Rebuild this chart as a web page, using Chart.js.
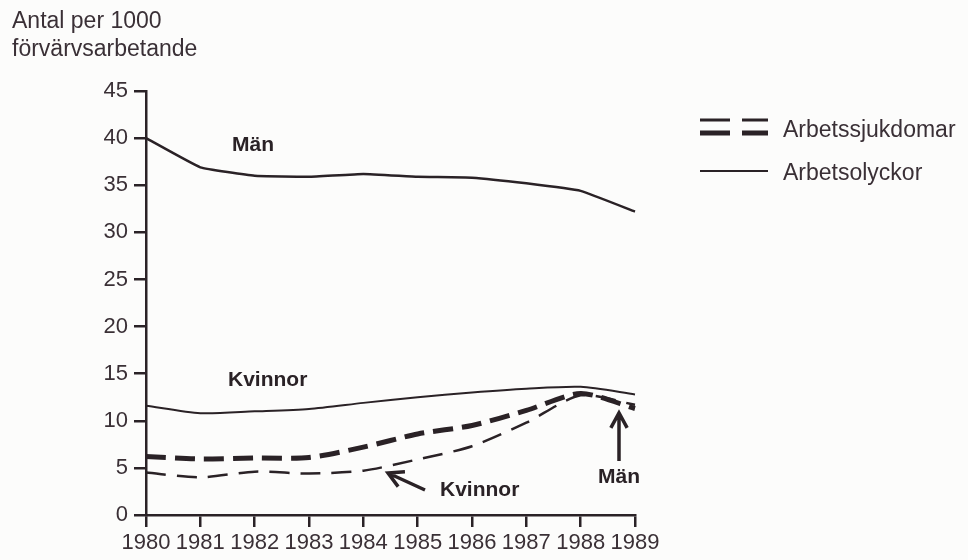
<!DOCTYPE html>
<html>
<head>
<meta charset="utf-8">
<script src="https://cdn.jsdelivr.net/npm/chart.js@4.4.1/dist/chart.umd.min.js"></script>
<style>
  html, body { margin: 0; padding: 0; background: #fcfcfb; }
  #wrap { width: 968px; height: 560px; position: relative; }
</style>
</head>
<body>
<div id="wrap"><canvas id="chart" width="968" height="560"></canvas></div>
<script>
/* ── Data ─────────────────────────────────────────────────────────── */
const years = ['1980','1981','1982','1983','1984','1985','1986','1987','1988','1989'];

// Arbetsolyckor (solid)
const olyckorMan     = [40.0, 36.9, 36.0, 35.9, 36.2, 35.9, 35.8, 35.2, 34.4, 32.2];
const olyckorKvinnor = [11.6, 10.8, 11.0, 11.25, 11.9, 12.5, 13.0, 13.4, 13.6, 12.8];

// Arbetssjukdomar (dashed)
const sjukdomMan     = [6.2, 5.95, 6.05, 6.1, 7.2, 8.6, 9.5, 11.1, 12.9, 11.3];
const sjukdomKvinnor = [4.5, 4.0, 4.6, 4.4, 4.7, 5.9, 7.3, 9.8, 12.7, 11.7];

const yTicks = [0, 5, 10, 15, 20, 25, 30, 35, 40, 45];

const INK  = '#2a2226';
const TEXT = '#3a3036';
const FONT = '"Liberation Sans", Arial, Helvetica, sans-serif';

// ── Overlay: axis title, legend, annotations ────────────────────────
function arrow(ctx, x1, y1, x2, y2) {
  // line from (x1,y1) to tip (x2,y2)
  var a = Math.atan2(y2 - y1, x2 - x1);
  var h = 17;
  ctx.beginPath();
  ctx.moveTo(x1, y1);
  ctx.lineTo(x2, y2);
  ctx.moveTo(x2 - h * Math.cos(a - 0.5), y2 - h * Math.sin(a - 0.5));
  ctx.lineTo(x2, y2);
  ctx.lineTo(x2 - h * Math.cos(a + 0.5), y2 - h * Math.sin(a + 0.5));
  ctx.stroke();
}

const overlay = {
  id: 'overlay',
  afterDraw: function(chart) {
    var ctx = chart.ctx;
    ctx.save();

    // y axis title
    ctx.fillStyle = TEXT;
    ctx.font = '23px ' + FONT;
    ctx.textAlign = 'left';
    ctx.textBaseline = 'middle';
    ctx.fillText('Antal per 1000', 12, 22);
    ctx.fillText('förvärvsarbetande', 12, 50);

    // legend
    ctx.strokeStyle = INK;
    ctx.lineCap = 'butt';
    ctx.lineWidth = 3;
    ctx.beginPath();
    ctx.moveTo(700, 120); ctx.lineTo(730, 120);
    ctx.moveTo(742, 120); ctx.lineTo(768, 120);
    ctx.stroke();
    ctx.lineWidth = 5;
    ctx.beginPath();
    ctx.moveTo(700, 133); ctx.lineTo(730, 133);
    ctx.moveTo(742, 133); ctx.lineTo(768, 133);
    ctx.stroke();
    ctx.lineWidth = 2;
    ctx.beginPath();
    ctx.moveTo(700, 171); ctx.lineTo(768, 171);
    ctx.stroke();
    ctx.fillText('Arbetssjukdomar', 783, 131);
    ctx.fillText('Arbetsolyckor', 783, 174);

    // annotations
    ctx.font = 'bold 21px ' + FONT;
    ctx.fillStyle = INK;
    ctx.fillText('Män', 232, 145);
    ctx.fillText('Kvinnor', 228, 380);
    ctx.fillText('Kvinnor', 440, 490);
    ctx.fillText('Män', 598, 477);

    ctx.lineWidth = 3.5;
    ctx.lineJoin = 'miter';
    arrow(ctx, 425, 490, 388, 473);
    arrow(ctx, 619, 461, 619, 413);

    ctx.restore();
  }
};

// ── Chart ───────────────────────────────────────────────────────────
const ctx = document.getElementById('chart').getContext('2d');
new Chart(ctx, {
  type: 'line',
  data: {
    labels: years,
    datasets: [
      { label: 'Arbetsolyckor Män', data: olyckorMan,
        borderColor: INK, borderWidth: 2.5, tension: 0.1 },
      { label: 'Arbetsolyckor Kvinnor', data: olyckorKvinnor,
        borderColor: INK, borderWidth: 2, tension: 0.25 },
      { label: 'Arbetssjukdomar Män', data: sjukdomMan,
        borderColor: INK, borderWidth: 5, borderDash: [20, 9], tension: 0.25 },
      { label: 'Arbetssjukdomar Kvinnor', data: sjukdomKvinnor,
        borderColor: INK, borderWidth: 2.5, borderDash: [20, 11], tension: 0.25 }
    ]
  },
  options: {
    responsive: false,
    animation: false,
    devicePixelRatio: 1,
    layout: { padding: { left: 0, top: 91, right: 333, bottom: 0 } },
    elements: { point: { radius: 0 }, line: { fill: false, borderCapStyle: 'butt' } },
    plugins: {
      legend: { display: false },
      tooltip: { enabled: false },
      title: { display: false }
    },
    scales: {
      x: {
        type: 'category',
        offset: false,
        afterFit: function(s) { s.height = 45; },
        grid: { display: true, drawOnChartArea: false, drawTicks: true,
                tickLength: 12, color: INK, lineWidth: 2.5 },
        border: { display: true, color: INK, width: 2.5 },
        ticks: { color: TEXT, font: { size: 22, family: FONT },
                 padding: 3, maxRotation: 0, autoSkip: false }
      },
      y: {
        min: 0, max: 45,
        afterFit: function(s) { s.width = 146; },
        afterBuildTicks: function(s) {
          s.ticks = yTicks.map(function(v) { return { value: v }; });
        },
        grid: { display: true, drawOnChartArea: false, drawTicks: true,
                tickLength: 12, color: INK, lineWidth: 2.5 },
        border: { display: true, color: INK, width: 2.5 },
        ticks: { color: TEXT, font: { size: 22, family: FONT }, padding: 6 }
      }
    }
  },
  plugins: [overlay]
});
</script>
</body>
</html>
